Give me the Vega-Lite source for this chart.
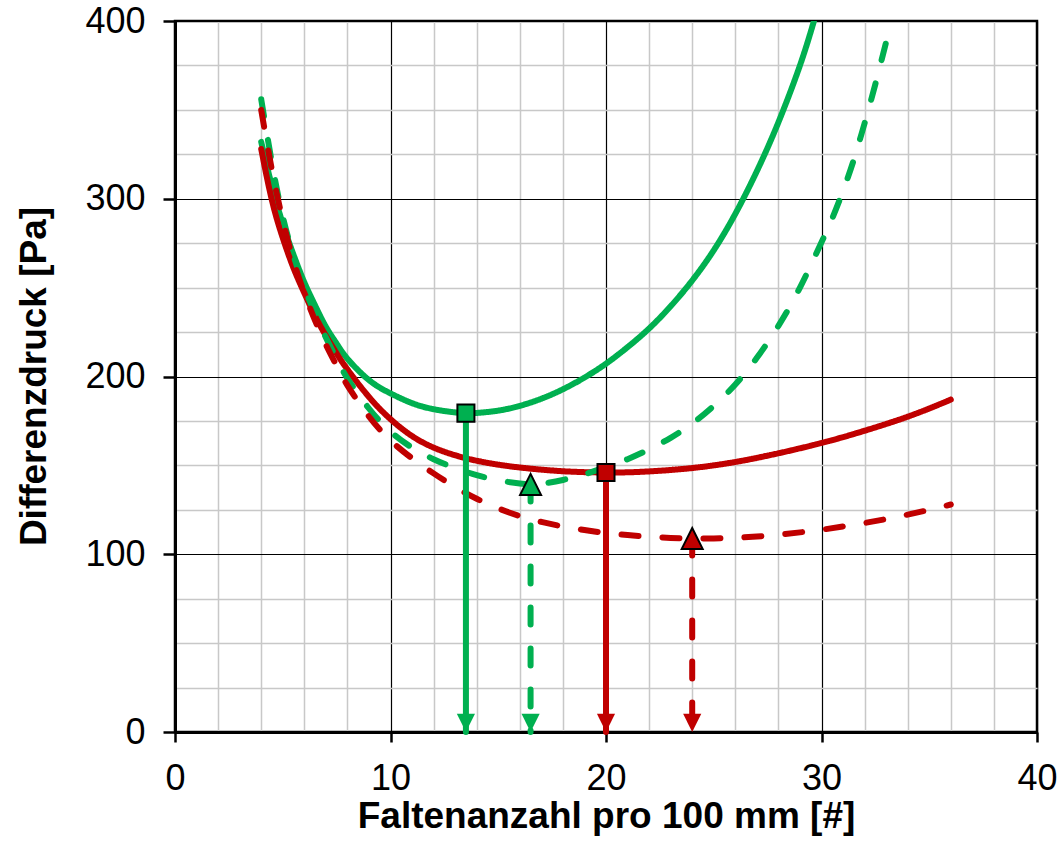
{
  "$schema": "https://vega.github.io/schema/vega-lite/v6.json",
  "autosize": "none",
  "width": 862,
  "height": 711,
  "padding": {"left": 175, "top": 21, "right": 26, "bottom": 112},
  "background": "white",
  "config": {
    "font": "Liberation Sans",
    "view": {"stroke": "black", "strokeWidth": 2.5}
  },
  "datasets": {
    "kurven": [
      {"v": "Variante 1", "k": "durchgezogen", "x": 4, "y": 332},
      {"v": "Variante 1", "k": "durchgezogen", "x": 4.5, "y": 307},
      {"v": "Variante 1", "k": "durchgezogen", "x": 5, "y": 286},
      {"v": "Variante 1", "k": "durchgezogen", "x": 5.5, "y": 268.5},
      {"v": "Variante 1", "k": "durchgezogen", "x": 6, "y": 253},
      {"v": "Variante 1", "k": "durchgezogen", "x": 6.5, "y": 240},
      {"v": "Variante 1", "k": "durchgezogen", "x": 7, "y": 228},
      {"v": "Variante 1", "k": "durchgezogen", "x": 7.5, "y": 218.5},
      {"v": "Variante 1", "k": "durchgezogen", "x": 8, "y": 210},
      {"v": "Variante 1", "k": "durchgezogen", "x": 9, "y": 198},
      {"v": "Variante 1", "k": "durchgezogen", "x": 10, "y": 190.5},
      {"v": "Variante 1", "k": "durchgezogen", "x": 11, "y": 185},
      {"v": "Variante 1", "k": "durchgezogen", "x": 12, "y": 181.6},
      {"v": "Variante 1", "k": "durchgezogen", "x": 13, "y": 179.8},
      {"v": "Variante 1", "k": "durchgezogen", "x": 13.5, "y": 179.4},
      {"v": "Variante 1", "k": "durchgezogen", "x": 14, "y": 179.5},
      {"v": "Variante 1", "k": "durchgezogen", "x": 15, "y": 180.8},
      {"v": "Variante 1", "k": "durchgezogen", "x": 16, "y": 183.5},
      {"v": "Variante 1", "k": "durchgezogen", "x": 17, "y": 187.5},
      {"v": "Variante 1", "k": "durchgezogen", "x": 18, "y": 192.8},
      {"v": "Variante 1", "k": "durchgezogen", "x": 19, "y": 199.4},
      {"v": "Variante 1", "k": "durchgezogen", "x": 20, "y": 207.2},
      {"v": "Variante 1", "k": "durchgezogen", "x": 21, "y": 216.5},
      {"v": "Variante 1", "k": "durchgezogen", "x": 22, "y": 227},
      {"v": "Variante 1", "k": "durchgezogen", "x": 23, "y": 239.5},
      {"v": "Variante 1", "k": "durchgezogen", "x": 24, "y": 254},
      {"v": "Variante 1", "k": "durchgezogen", "x": 25, "y": 271},
      {"v": "Variante 1", "k": "durchgezogen", "x": 26, "y": 291.5},
      {"v": "Variante 1", "k": "durchgezogen", "x": 27, "y": 315.5},
      {"v": "Variante 1", "k": "durchgezogen", "x": 28, "y": 343},
      {"v": "Variante 1", "k": "durchgezogen", "x": 29, "y": 375},
      {"v": "Variante 1", "k": "durchgezogen", "x": 29.65, "y": 400},

      {"v": "Variante 2", "k": "durchgezogen", "x": 4, "y": 328},
      {"v": "Variante 2", "k": "durchgezogen", "x": 4.5, "y": 299},
      {"v": "Variante 2", "k": "durchgezogen", "x": 5, "y": 278},
      {"v": "Variante 2", "k": "durchgezogen", "x": 5.5, "y": 261},
      {"v": "Variante 2", "k": "durchgezogen", "x": 6, "y": 247},
      {"v": "Variante 2", "k": "durchgezogen", "x": 6.5, "y": 234},
      {"v": "Variante 2", "k": "durchgezogen", "x": 7, "y": 223},
      {"v": "Variante 2", "k": "durchgezogen", "x": 7.5, "y": 213},
      {"v": "Variante 2", "k": "durchgezogen", "x": 8, "y": 204},
      {"v": "Variante 2", "k": "durchgezogen", "x": 9, "y": 188.5},
      {"v": "Variante 2", "k": "durchgezogen", "x": 10, "y": 176},
      {"v": "Variante 2", "k": "durchgezogen", "x": 11, "y": 166.5},
      {"v": "Variante 2", "k": "durchgezogen", "x": 12, "y": 160},
      {"v": "Variante 2", "k": "durchgezogen", "x": 13, "y": 155.7},
      {"v": "Variante 2", "k": "durchgezogen", "x": 14, "y": 152.6},
      {"v": "Variante 2", "k": "durchgezogen", "x": 15, "y": 150.4},
      {"v": "Variante 2", "k": "durchgezogen", "x": 16, "y": 148.8},
      {"v": "Variante 2", "k": "durchgezogen", "x": 17, "y": 147.6},
      {"v": "Variante 2", "k": "durchgezogen", "x": 18, "y": 146.7},
      {"v": "Variante 2", "k": "durchgezogen", "x": 19, "y": 146.2},
      {"v": "Variante 2", "k": "durchgezogen", "x": 20, "y": 146},
      {"v": "Variante 2", "k": "durchgezogen", "x": 21, "y": 146.1},
      {"v": "Variante 2", "k": "durchgezogen", "x": 22, "y": 146.6},
      {"v": "Variante 2", "k": "durchgezogen", "x": 23, "y": 147.4},
      {"v": "Variante 2", "k": "durchgezogen", "x": 24, "y": 148.5},
      {"v": "Variante 2", "k": "durchgezogen", "x": 25, "y": 150},
      {"v": "Variante 2", "k": "durchgezogen", "x": 26, "y": 151.9},
      {"v": "Variante 2", "k": "durchgezogen", "x": 27, "y": 154.2},
      {"v": "Variante 2", "k": "durchgezogen", "x": 28, "y": 156.8},
      {"v": "Variante 2", "k": "durchgezogen", "x": 29, "y": 159.6},
      {"v": "Variante 2", "k": "durchgezogen", "x": 30, "y": 162.6},
      {"v": "Variante 2", "k": "durchgezogen", "x": 31, "y": 165.9},
      {"v": "Variante 2", "k": "durchgezogen", "x": 32, "y": 169.5},
      {"v": "Variante 2", "k": "durchgezogen", "x": 33, "y": 173.3},
      {"v": "Variante 2", "k": "durchgezogen", "x": 34, "y": 177.4},
      {"v": "Variante 2", "k": "durchgezogen", "x": 35, "y": 182},
      {"v": "Variante 2", "k": "durchgezogen", "x": 36, "y": 187},

      {"v": "Variante 1", "k": "gestrichelt", "x": 4, "y": 356},
      {"v": "Variante 1", "k": "gestrichelt", "x": 4.5, "y": 320},
      {"v": "Variante 1", "k": "gestrichelt", "x": 5, "y": 290},
      {"v": "Variante 1", "k": "gestrichelt", "x": 5.5, "y": 268},
      {"v": "Variante 1", "k": "gestrichelt", "x": 6, "y": 250},
      {"v": "Variante 1", "k": "gestrichelt", "x": 6.5, "y": 235.5},
      {"v": "Variante 1", "k": "gestrichelt", "x": 7, "y": 222},
      {"v": "Variante 1", "k": "gestrichelt", "x": 7.5, "y": 210},
      {"v": "Variante 1", "k": "gestrichelt", "x": 8, "y": 199},
      {"v": "Variante 1", "k": "gestrichelt", "x": 9, "y": 182},
      {"v": "Variante 1", "k": "gestrichelt", "x": 10, "y": 169},
      {"v": "Variante 1", "k": "gestrichelt", "x": 11, "y": 160},
      {"v": "Variante 1", "k": "gestrichelt", "x": 12, "y": 153.5},
      {"v": "Variante 1", "k": "gestrichelt", "x": 13, "y": 148.5},
      {"v": "Variante 1", "k": "gestrichelt", "x": 14, "y": 144.5},
      {"v": "Variante 1", "k": "gestrichelt", "x": 15, "y": 141.6},
      {"v": "Variante 1", "k": "gestrichelt", "x": 16, "y": 139.8},
      {"v": "Variante 1", "k": "gestrichelt", "x": 16.5, "y": 139.3},
      {"v": "Variante 1", "k": "gestrichelt", "x": 17, "y": 139.6},
      {"v": "Variante 1", "k": "gestrichelt", "x": 18, "y": 141.8},
      {"v": "Variante 1", "k": "gestrichelt", "x": 19, "y": 145},
      {"v": "Variante 1", "k": "gestrichelt", "x": 20, "y": 149},
      {"v": "Variante 1", "k": "gestrichelt", "x": 21, "y": 153.5},
      {"v": "Variante 1", "k": "gestrichelt", "x": 22, "y": 159},
      {"v": "Variante 1", "k": "gestrichelt", "x": 23, "y": 165.5},
      {"v": "Variante 1", "k": "gestrichelt", "x": 24, "y": 173.5},
      {"v": "Variante 1", "k": "gestrichelt", "x": 25, "y": 183.5},
      {"v": "Variante 1", "k": "gestrichelt", "x": 26, "y": 195.5},
      {"v": "Variante 1", "k": "gestrichelt", "x": 27, "y": 210.5},
      {"v": "Variante 1", "k": "gestrichelt", "x": 28, "y": 228.5},
      {"v": "Variante 1", "k": "gestrichelt", "x": 29, "y": 250},
      {"v": "Variante 1", "k": "gestrichelt", "x": 30, "y": 275.5},
      {"v": "Variante 1", "k": "gestrichelt", "x": 30.5, "y": 289},
      {"v": "Variante 1", "k": "gestrichelt", "x": 31, "y": 304.5},
      {"v": "Variante 1", "k": "gestrichelt", "x": 31.5, "y": 322},
      {"v": "Variante 1", "k": "gestrichelt", "x": 32, "y": 342.5},
      {"v": "Variante 1", "k": "gestrichelt", "x": 32.5, "y": 364.5},
      {"v": "Variante 1", "k": "gestrichelt", "x": 33.1, "y": 393},

      {"v": "Variante 2", "k": "gestrichelt", "x": 4, "y": 350},
      {"v": "Variante 2", "k": "gestrichelt", "x": 4.5, "y": 316},
      {"v": "Variante 2", "k": "gestrichelt", "x": 5, "y": 288},
      {"v": "Variante 2", "k": "gestrichelt", "x": 5.5, "y": 265},
      {"v": "Variante 2", "k": "gestrichelt", "x": 6, "y": 247},
      {"v": "Variante 2", "k": "gestrichelt", "x": 6.5, "y": 231.5},
      {"v": "Variante 2", "k": "gestrichelt", "x": 7, "y": 218},
      {"v": "Variante 2", "k": "gestrichelt", "x": 7.5, "y": 206},
      {"v": "Variante 2", "k": "gestrichelt", "x": 8, "y": 195},
      {"v": "Variante 2", "k": "gestrichelt", "x": 9, "y": 177.5},
      {"v": "Variante 2", "k": "gestrichelt", "x": 10, "y": 164},
      {"v": "Variante 2", "k": "gestrichelt", "x": 11, "y": 154},
      {"v": "Variante 2", "k": "gestrichelt", "x": 12, "y": 145.5},
      {"v": "Variante 2", "k": "gestrichelt", "x": 13, "y": 137.8},
      {"v": "Variante 2", "k": "gestrichelt", "x": 14, "y": 131.2},
      {"v": "Variante 2", "k": "gestrichelt", "x": 15, "y": 125.8},
      {"v": "Variante 2", "k": "gestrichelt", "x": 16, "y": 121.5},
      {"v": "Variante 2", "k": "gestrichelt", "x": 17, "y": 118.2},
      {"v": "Variante 2", "k": "gestrichelt", "x": 18, "y": 115.6},
      {"v": "Variante 2", "k": "gestrichelt", "x": 19, "y": 113.6},
      {"v": "Variante 2", "k": "gestrichelt", "x": 20, "y": 112},
      {"v": "Variante 2", "k": "gestrichelt", "x": 21, "y": 110.8},
      {"v": "Variante 2", "k": "gestrichelt", "x": 22, "y": 109.9},
      {"v": "Variante 2", "k": "gestrichelt", "x": 23, "y": 109.2},
      {"v": "Variante 2", "k": "gestrichelt", "x": 24, "y": 108.9},
      {"v": "Variante 2", "k": "gestrichelt", "x": 25, "y": 108.9},
      {"v": "Variante 2", "k": "gestrichelt", "x": 26, "y": 109.3},
      {"v": "Variante 2", "k": "gestrichelt", "x": 27, "y": 110},
      {"v": "Variante 2", "k": "gestrichelt", "x": 28, "y": 111},
      {"v": "Variante 2", "k": "gestrichelt", "x": 29, "y": 112.3},
      {"v": "Variante 2", "k": "gestrichelt", "x": 30, "y": 113.8},
      {"v": "Variante 2", "k": "gestrichelt", "x": 31, "y": 115.6},
      {"v": "Variante 2", "k": "gestrichelt", "x": 32, "y": 117.6},
      {"v": "Variante 2", "k": "gestrichelt", "x": 33, "y": 119.8},
      {"v": "Variante 2", "k": "gestrichelt", "x": 34, "y": 122.3},
      {"v": "Variante 2", "k": "gestrichelt", "x": 35, "y": 125},
      {"v": "Variante 2", "k": "gestrichelt", "x": 36, "y": 128}
    ],
    "minima": [
      {"v": "Variante 1", "k": "durchgezogen", "x": 13.5, "y": 179.4, "y0": 0},
      {"v": "Variante 1", "k": "gestrichelt", "x": 16.5, "y": 139.3, "y0": 0},
      {"v": "Variante 2", "k": "durchgezogen", "x": 20, "y": 146, "y0": 0},
      {"v": "Variante 2", "k": "gestrichelt", "x": 24, "y": 108.9, "y0": 0}
    ]
  },
  "encoding": {
    "x": {
      "field": "x", "type": "quantitative",
      "scale": {"domain": [0, 40], "nice": false, "zero": false},
      "axis": {
        "title": "Faltenanzahl pro 100 mm [#]",
        "titleFont": "Liberation Sans", "titleFontSize": 37, "titleFontWeight": "bold", "titleColor": "black",
        "titleBaseline": "alphabetic", "titleY": 95, "titleX": 431, "titleAlign": "center",
        "values": [0, 2, 4, 6, 8, 10, 12, 14, 16, 18, 20, 22, 24, 26, 28, 30, 32, 34, 36, 38, 40],
        "labelExpr": "datum.value % 10 === 0 ? datum.label : ''",
        "labelFont": "Liberation Sans", "labelFontSize": 36, "labelColor": "black",
        "labelPadding": 19, "labelOverlap": false, "labelFlush": false, "labelBound": false,
        "domainColor": "black", "domainWidth": 3,
        "tickColor": "black", "tickWidth": 2.5, "tickSize": 10,
        "tickOpacity": {"condition": {"test": "datum.value % 10 === 0", "value": 1}, "value": 0},
        "grid": true,
        "gridColor": {"condition": {"test": "datum.value % 10 === 0", "value": "black"}, "value": "#c8c8c8"},
        "gridWidth": {"condition": {"test": "datum.value % 10 === 0", "value": 1.2}, "value": 1.5}
      }
    },
    "y": {
      "field": "y", "type": "quantitative",
      "scale": {"domain": [0, 400], "nice": false},
      "axis": {
        "title": "Differenzdruck [Pa]",
        "titleFont": "Liberation Sans", "titleFontSize": 37, "titleFontWeight": "bold", "titleColor": "black",
        "titleX": -122, "titleY": 355, "titleAngle": -90, "titleBaseline": "bottom", "titleAlign": "center",
        "values": [0, 25, 50, 75, 100, 125, 150, 175, 200, 225, 250, 275, 300, 325, 350, 375, 400],
        "labelExpr": "datum.value % 100 === 0 ? datum.label : ''",
        "labelFont": "Liberation Sans", "labelFontSize": 36, "labelColor": "black",
        "labelPadding": 18, "labelOverlap": false, "labelBound": false, "labelFlush": false,
        "domainColor": "black", "domainWidth": 3,
        "tickColor": "black", "tickWidth": 2.5, "tickSize": 12,
        "tickOpacity": {"condition": {"test": "datum.value % 100 === 0", "value": 1}, "value": 0},
        "grid": true,
        "gridColor": {"condition": {"test": "datum.value % 100 === 0", "value": "black"}, "value": "#c8c8c8"},
        "gridWidth": {"condition": {"test": "datum.value % 100 === 0", "value": 1.2}, "value": 1.5}
      }
    }
  },
  "layer": [
    {
      "data": {"name": "kurven"},
      "mark": {"type": "line", "strokeWidth": 6, "strokeCap": "round", "interpolate": "natural", "clip": true},
      "encoding": {
        "detail": {"field": "k"},
        "color": {"field": "v", "type": "nominal", "scale": {"domain": ["Variante 1", "Variante 2"], "range": ["#00b050", "#c00000"]}, "legend": null},
        "strokeDash": {"field": "k", "type": "nominal", "scale": {"domain": ["durchgezogen", "gestrichelt"], "range": [[1, 0], [17, 24]]}, "legend": null}
      }
    },
    {
      "data": {"name": "minima"},
      "mark": {"type": "rule", "strokeWidth": 6, "strokeCap": "round"},
      "encoding": {
        "y2": {"field": "y0"},
        "color": {"field": "v", "type": "nominal", "legend": null},
        "strokeDash": {"field": "k", "type": "nominal", "legend": null}
      }
    },
    {
      "data": {"name": "minima"},
      "mark": {"type": "point", "shape": "M0,0 L-1,-2 L1,-2 Z", "filled": true, "opacity": 1, "size": 330},
      "encoding": {
        "y": {"field": "y0", "type": "quantitative"},
        "color": {"field": "v", "type": "nominal", "legend": null}
      }
    },
    {
      "data": {"name": "minima"},
      "mark": {"type": "point", "filled": true, "opacity": 1, "stroke": "black", "strokeWidth": 2},
      "encoding": {
        "color": {"field": "v", "type": "nominal", "legend": null},
        "shape": {"field": "k", "type": "nominal", "scale": {"domain": ["durchgezogen", "gestrichelt"], "range": ["square", "M0,-1 L1,1 L-1,1 Z"]}, "legend": null},
        "size": {"field": "k", "type": "nominal", "scale": {"domain": ["durchgezogen", "gestrichelt"], "range": [290, 440]}, "legend": null}
      }
    }
  ]
}
